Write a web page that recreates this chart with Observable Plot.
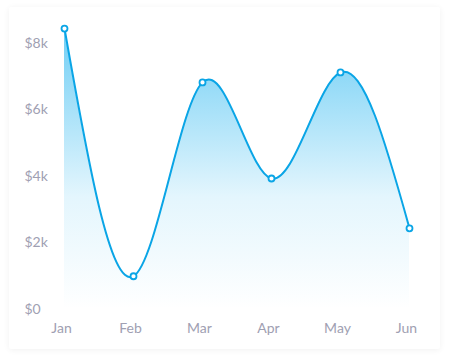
<!DOCTYPE html>
<html><head><meta charset="utf-8">
<script src="https://cdn.jsdelivr.net/npm/d3@7"></script>
<script src="https://cdn.jsdelivr.net/npm/@observablehq/plot@0.6"></script>
<style>
html,body{margin:0;padding:0;background:#fff;}
#wrap{position:relative;width:450px;height:361px;}
#card{position:absolute;left:9px;top:7px;width:431px;height:342px;background:#fff;box-shadow:0 1px 6px rgba(0,0,0,0.06);border-radius:2px;}
#chart{position:absolute;left:0;top:0;}
</style></head><body>
<div id="wrap"><div id="card"></div><div id="chart"></div></div>
<script>
const months = ["Jan","Feb","Mar","Apr","May","Jun"];
const sales = [8450, 1000, 6830, 3940, 7130, 2440];
const yTicks = [0, 2000, 4000, 6000, 8000];
const data = months.map((m,i)=>({month:m, value:sales[i]}));
const fmt = v => v === 0 ? "$0" : "$" + (v/1000) + "k";
const font = "Lato, 'Open Sans', sans-serif";
const curve = "natural";
const plot = Plot.plot({
  width: 450, height: 361,
  marginLeft: 64, marginRight: 41, marginTop: 43, marginBottom: 52,
  style: {fontFamily: font, fontSize: "14px", color: "#a0a0b2", background: "transparent"},
  x: {type: "point", domain: months, padding: 0},
  y: {domain: [0, 8000]},
  marks: [
    Plot.areaY(data, {x: "month", y: "value", curve, fill: "url(#areaGrad)"}),
    Plot.lineY(data, {x: "month", y: "value", curve, stroke: "#0aa5e6", strokeWidth: 2}),
    Plot.dot(data, {x: "month", y: "value", r: 3, fill: "#fff", stroke: "#0aa5e6", strokeWidth: 1.8}),
    Plot.axisY({ticks: yTicks, tickFormat: fmt, tickSize: 0, tickPadding: 0, textAnchor: "start", dx: -40, label: null}),
    Plot.axisX({tickSize: 0, tickPadding: 14, dx: -3, label: null})
  ]
});
const ns = "http://www.w3.org/2000/svg";
const defs = document.createElementNS(ns, "defs");
defs.innerHTML = `<linearGradient id="areaGrad" x1="0" y1="0" x2="0" y2="1">
<stop offset="0" stop-color="#2cb7f0" stop-opacity="0.68"/>
<stop offset="0.6" stop-color="#2cb7f0" stop-opacity="0.13"/>
<stop offset="1" stop-color="#2cb7f0" stop-opacity="0"/>
</linearGradient>`;
plot.insertBefore(defs, plot.firstChild);
document.getElementById("chart").appendChild(plot);
</script></body></html>
